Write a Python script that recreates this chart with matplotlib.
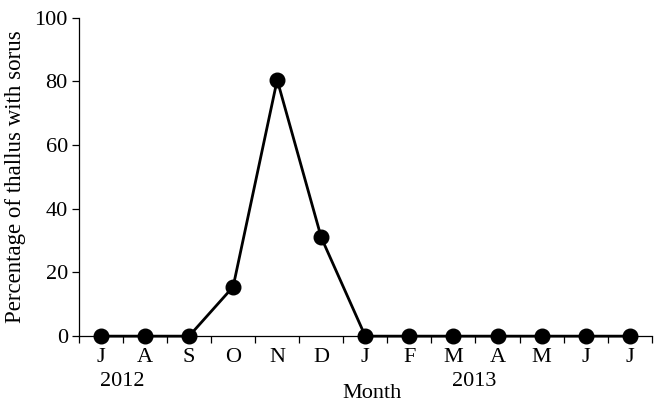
import matplotlib
matplotlib.use("Agg")
import matplotlib.pyplot as plt

months = ["J", "A", "S", "O", "N", "D", "J", "F", "M", "A", "M", "J", "J"]
values = [0, 0, 0, 15.5, 80.5, 31, 0, 0, 0, 0, 0, 0, 0]
yticks = [0, 20, 40, 60, 80, 100]

plt.rcParams['font.family'] = ['Liberation Serif', 'DejaVu Serif']
FS = 16

fig = plt.figure(figsize=(6.63, 4.05), dpi=100)
ax = fig.add_axes([0.119, 0.170, 0.864, 0.786])
x = list(range(len(months)))
ax.plot(x, values, color='black', lw=2, marker='o', ms=10.5, clip_on=False, zorder=3)
ax.set_xlim(-0.5, len(months) - 0.5)
ax.set_ylim(0, 100)
ax.set_yticks(yticks)
ax.set_xticks([i - 0.5 for i in range(len(months) + 1)])
ax.set_xticklabels([])
for i, m in enumerate(months):
    ax.text(i, -3.8, m, ha='center', va='top', fontsize=FS)
ax.tick_params(axis='y', labelsize=FS, length=5, width=0.9, direction='out', pad=3)
ax.tick_params(axis='x', length=5, width=0.9, direction='out')
for s in ['top', 'right']:
    ax.spines[s].set_visible(False)
for s in ['left', 'bottom']:
    ax.spines[s].set_linewidth(0.9)
ax.set_ylabel("Percentage of thallus with sorus", fontsize=16.5, labelpad=6)
fig.text(122 / 663, 1 - 382 / 405, "2012", ha='center', va='center', fontsize=FS)
fig.text(474 / 663, 1 - 382 / 405, "2013", ha='center', va='center', fontsize=FS)
fig.text(372 / 663, 1 - 394 / 405, "Month", ha='center', va='center', fontsize=FS)
fig.savefig("out.png", dpi=100)
